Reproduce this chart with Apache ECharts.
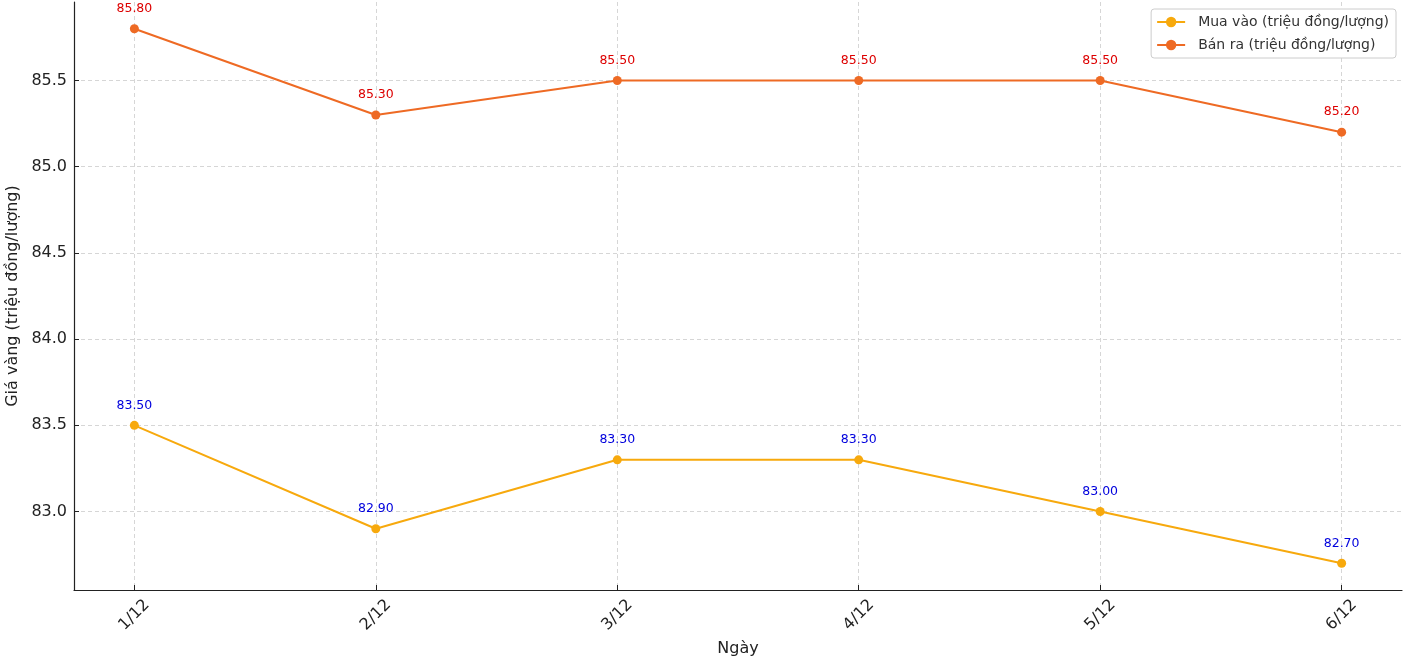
<!DOCTYPE html>
<html>
<head>
<meta charset="utf-8">
<script src="https://cdn.jsdelivr.net/npm/echarts@6/dist/echarts.min.js"></script>
<style>
  html, body { margin: 0; padding: 0; background: #fff; }
  #chart { width: 1406px; height: 672px; }
</style>
</head>
<body>
<div id="chart"></div>
<script>
// dữ liệu giá vàng
var days = ['1/12', '2/12', '3/12', '4/12', '5/12', '6/12']
var muaVao = [83.5, 82.9, 83.3, 83.3, 83.0, 82.7]
var banRa = [85.8, 85.3, 85.5, 85.5, 85.5, 85.2]
var yTicks = [83.0, 83.5, 84.0, 84.5, 85.0, 85.5]

var font = 'DejaVu Sans'
var chart = echarts.init(document.getElementById('chart'))

function pairs(vals) {
    return vals.map(function (v, i) { return [i, v] })
}

var option = {
    animation: false,
    textStyle: { fontFamily: font },
    grid: { left: 74, right: 4, top: 2, bottom: 82, outerBoundsMode: 'none' },
    legend: {
        orient: 'vertical',
        right: 10,
        top: 9,
        padding: [6, 7, 6, 5],
        itemGap: 9,
        itemWidth: 28,
        itemHeight: 13,
        borderColor: '#cccccc',
        borderWidth: 1,
        borderRadius: 3,
        backgroundColor: '#ffffff',
        textStyle: { fontFamily: font, fontSize: 14, color: '#333', padding: [0, 0, 0, 8] },
        data: ['Mua vào (triệu đồng/lượng)', 'Bán ra (triệu đồng/lượng)']
    },
    xAxis: {
        type: 'value',
        min: -0.25,
        max: 5.25,
        name: 'Ngày',
        nameLocation: 'middle',
        nameGap: 50,
        nameTextStyle: { fontFamily: font, fontSize: 16, color: '#222' },
        axisLine: { onZero: false, lineStyle: { color: '#222', width: 1.2 } },
        axisTick: { inside: true, length: 5, customValues: [0, 1, 2, 3, 4, 5], lineStyle: { color: '#222' } },
        axisLabel: {
            customValues: [0, 1, 2, 3, 4, 5],
            rotate: 45,
            align: 'center',
            verticalAlign: 'middle',
            margin: 25,
            fontFamily: font,
            fontSize: 16,
            color: '#222',
            formatter: function (v) { return days[v] }
        },
        splitLine: { show: true, lineStyle: { color: '#cccccc', type: [4, 3], width: 0.8 } }
    },
    yAxis: {
        type: 'value',
        min: 82.545,
        max: 85.955,
        name: 'Giá vàng (triệu đồng/lượng)',
        nameLocation: 'middle',
        nameGap: 47,
        nameTextStyle: { fontFamily: font, fontSize: 16, color: '#222' },
        axisLine: { show: true, onZero: false, lineStyle: { color: '#222', width: 1.2 } },
        axisTick: { show: true, inside: true, length: 5, customValues: yTicks, lineStyle: { color: '#222' } },
        axisLabel: {
            customValues: yTicks,
            margin: 7,
            fontFamily: font,
            fontSize: 16,
            color: '#222',
            formatter: function (v) { return v.toFixed(1) }
        },
        splitLine: { show: true, lineStyle: { color: '#cccccc', type: [4, 3], width: 0.8 } }
    },
    series: [
        {
            name: 'Mua vào (triệu đồng/lượng)',
            type: 'line',
            data: pairs(muaVao),
            color: '#f7a90d',
            symbol: 'circle',
            symbolSize: 9,
            lineStyle: { width: 2 },
            label: {
                show: true,
                position: 'top',
                distance: 9,
                color: '#0000dd',
                fontFamily: font,
                fontSize: 12.5,
                formatter: function (p) { return p.value[1].toFixed(2) }
            }
        },
        {
            name: 'Bán ra (triệu đồng/lượng)',
            type: 'line',
            data: pairs(banRa),
            color: '#ee6a24',
            symbol: 'circle',
            symbolSize: 9,
            lineStyle: { width: 2 },
            label: {
                show: true,
                position: 'top',
                distance: 9,
                color: '#dd0000',
                fontFamily: font,
                fontSize: 12.5,
                formatter: function (p) { return p.value[1].toFixed(2) }
            }
        }
    ]
}

chart.setOption(option)
</script>
</body>
</html>
